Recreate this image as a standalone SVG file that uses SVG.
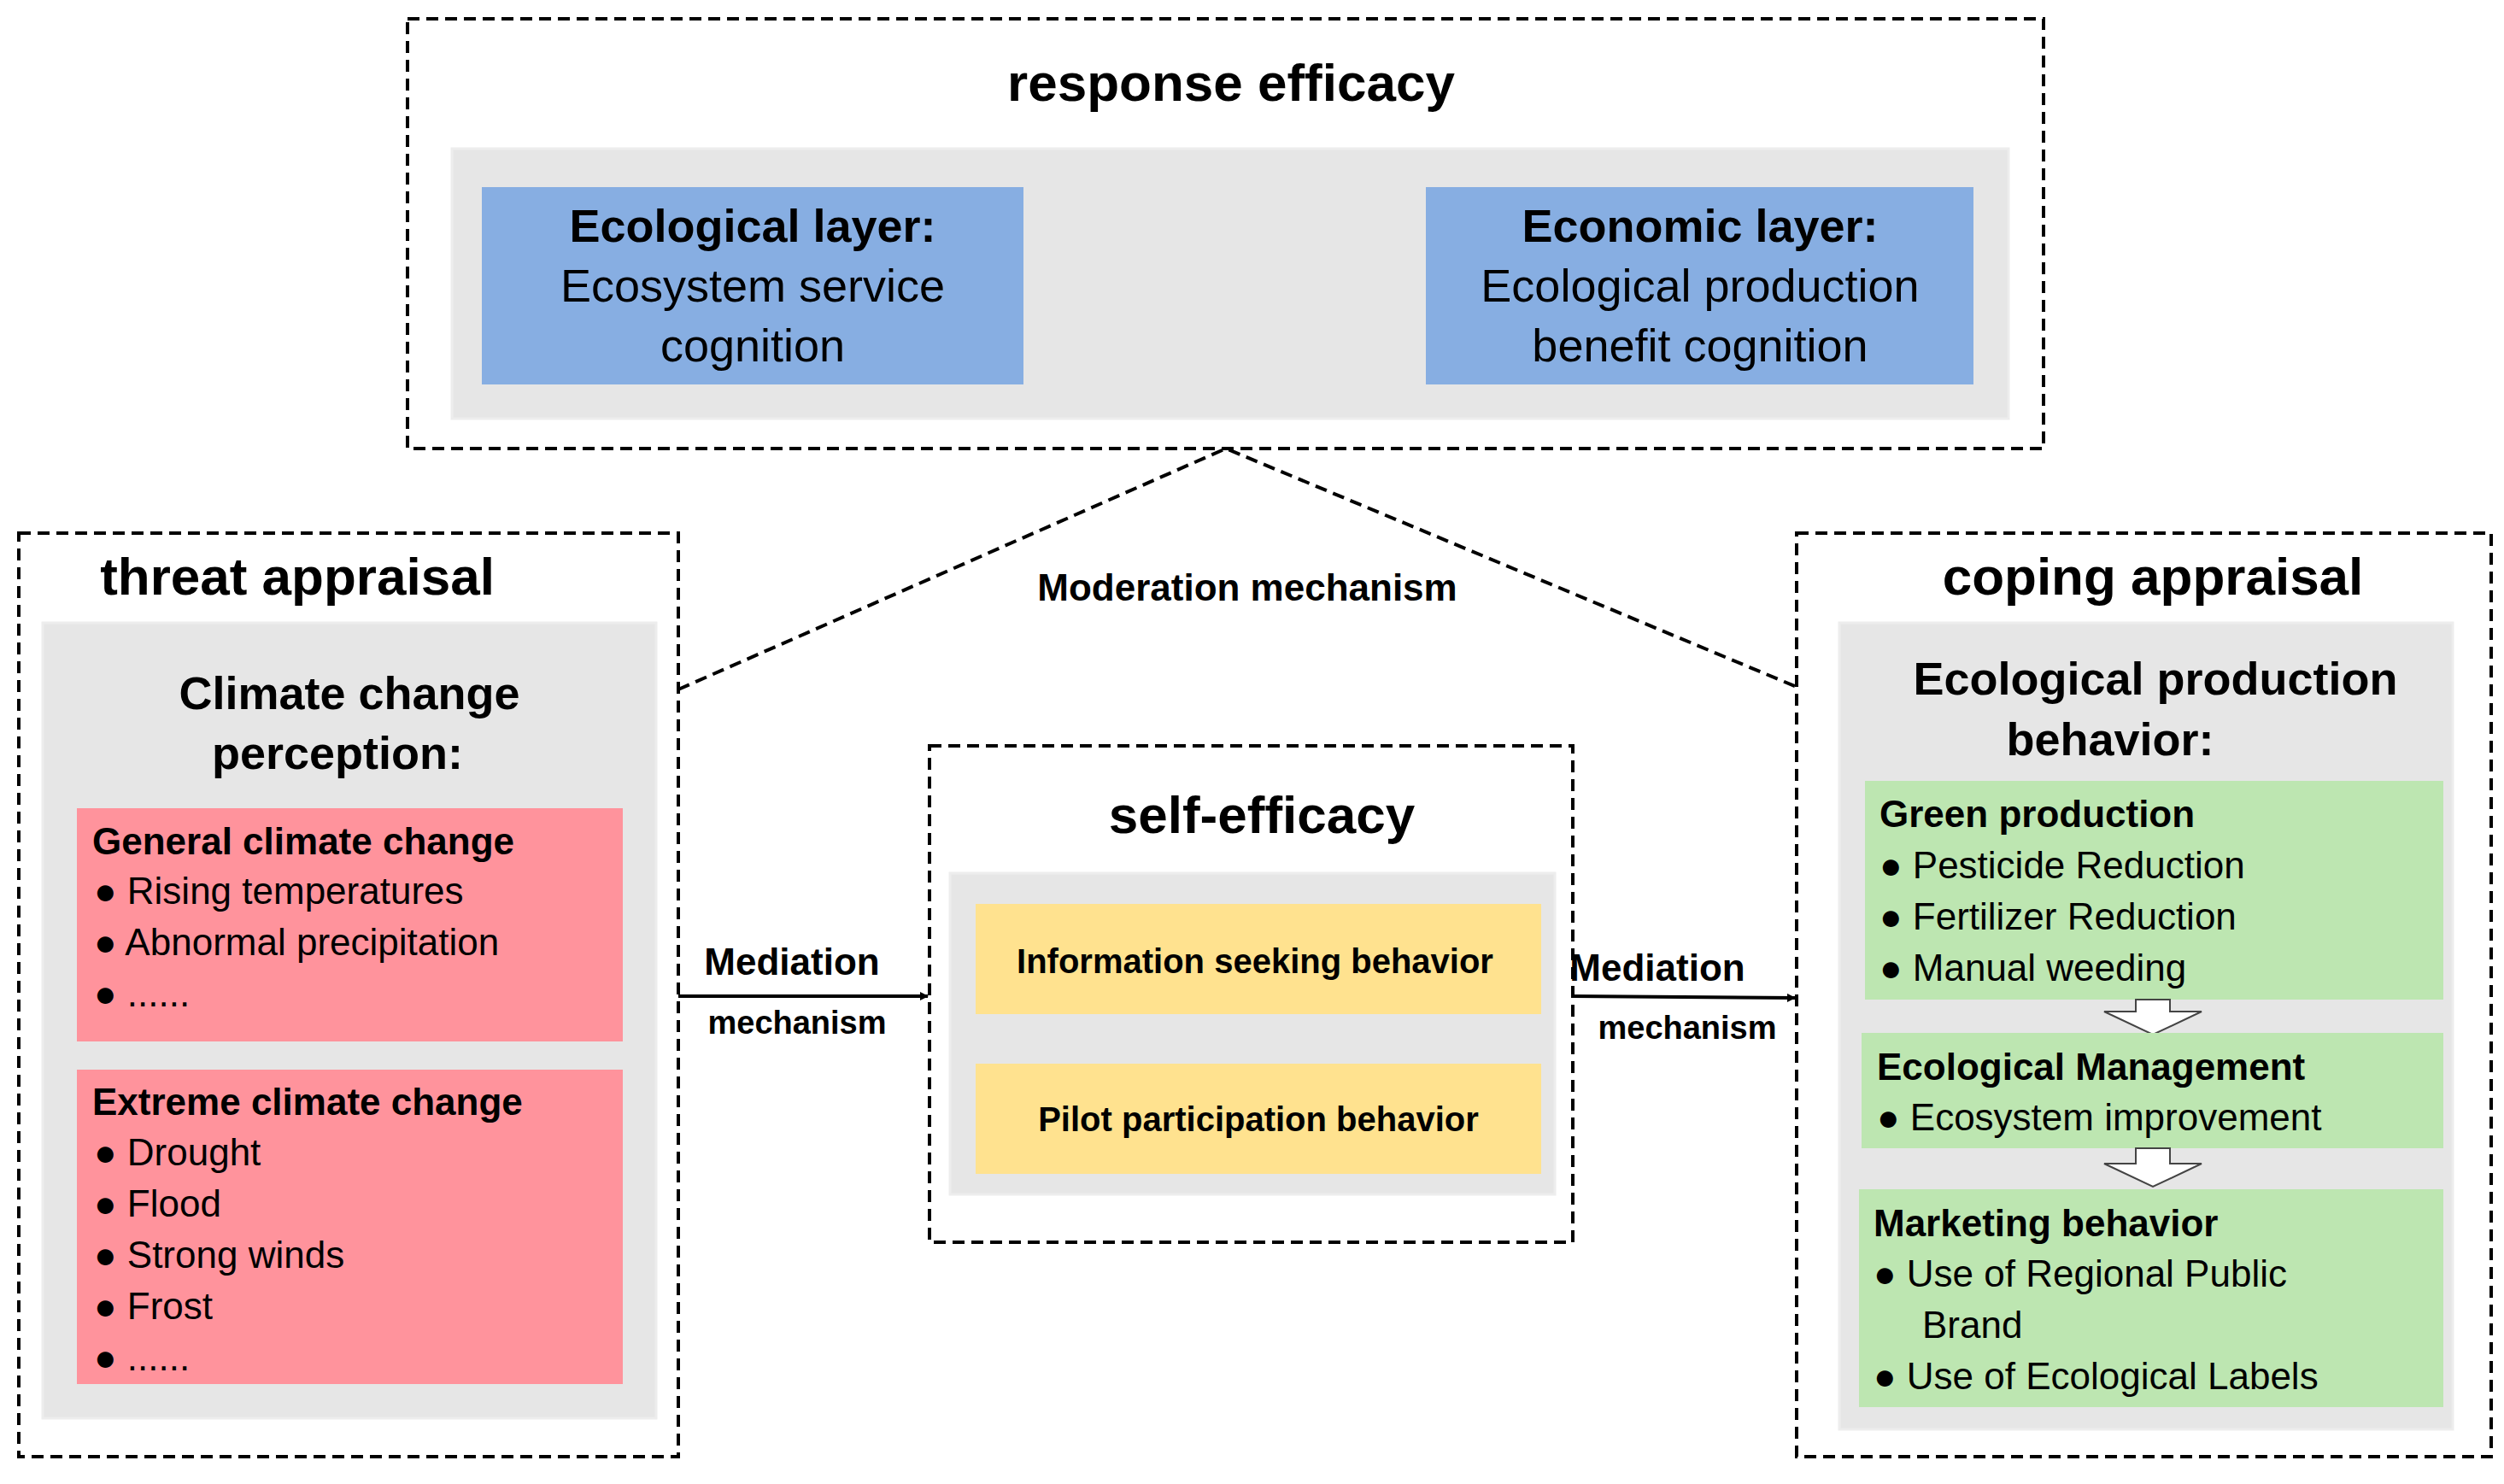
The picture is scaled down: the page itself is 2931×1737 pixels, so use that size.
<svg xmlns="http://www.w3.org/2000/svg" width="2931" height="1737" viewBox="0 0 2931 1737">
<defs>
<style>
text{font-family:"Liberation Sans",Arial,sans-serif;fill:#000}
.dash{fill:none;stroke:#000;stroke-width:4;stroke-dasharray:14 8}
.gray{fill:#e6e6e6;stroke:#ededed;stroke-width:3}
.blue{fill:#87aee2}
.pink{fill:#ff939c}
.yel{fill:#ffe28f}
.grn{fill:#bde6b1}
.t{font-size:62px;font-weight:bold;text-anchor:middle}
.h{font-size:54px;text-anchor:middle}
.hb{font-size:54px;font-weight:bold;text-anchor:middle}
.it{font-size:44px}
.itb{font-size:44px;font-weight:bold}
.yb{font-size:40px;font-weight:bold;text-anchor:middle}
.lab{font-size:44px;font-weight:bold}
.labs{font-size:38px;font-weight:bold}
</style>
<marker id="arr" markerWidth="10" markerHeight="10" refX="9" refY="5" orient="auto" markerUnits="userSpaceOnUse" viewBox="0 0 10 10"><path d="M0,0 L10,5 L0,10 z" fill="#000"/></marker>
</defs>
<rect width="2931" height="1737" fill="#fff"/>
<g id="response-efficacy">
<rect class="dash" x="477" y="22" width="1915" height="503"/>
<text class="t" x="1441" y="118">response efficacy</text>
<rect class="gray" x="529" y="174" width="1822" height="316"/>
<rect class="blue" x="564" y="219" width="634" height="231"/>
<text class="hb" x="881" y="283">Ecological layer:</text>
<text class="h" x="881" y="353">Ecosystem service</text>
<text class="h" x="881" y="423">cognition</text>
<rect class="blue" x="1669" y="219" width="641" height="231"/>
<text class="hb" x="1990" y="283">Economic layer:</text>
<text class="h" x="1990" y="353">Ecological production</text>
<text class="h" x="1990" y="423">benefit cognition</text>
</g>
<g id="threat-appraisal">
<rect class="dash" x="22" y="624" width="772" height="1081"/>
<text class="t" x="348" y="696">threat appraisal</text>
<rect class="gray" x="50" y="729" width="718" height="931"/>
<text class="hb" x="409" y="830">Climate change</text>
<text class="hb" x="395" y="900">perception:</text>
<rect class="pink" x="90" y="946" width="639" height="273"/>
<text class="itb" x="108" y="1000">General climate change</text>
<g class="it"><text x="110" y="1058">●  Rising temperatures</text><text x="110" y="1118">●  Abnormal precipitation</text><text x="110" y="1178">●  ......</text></g>
<rect class="pink" x="90" y="1252" width="639" height="368"/>
<text class="itb" x="108" y="1305">Extreme climate change</text>
<g class="it"><text x="110" y="1364">●  Drought</text><text x="110" y="1424">●  Flood</text><text x="110" y="1484">●  Strong winds</text><text x="110" y="1544">●  Frost</text><text x="110" y="1604">●  ......</text></g>
</g>
<g id="self-efficacy">
<rect class="dash" x="1088" y="873" width="753" height="581"/>
<text class="t" x="1477" y="975">self-efficacy</text>
<rect class="gray" x="1112" y="1022" width="708" height="376"/>
<rect class="yel" x="1142" y="1058" width="662" height="129"/>
<text class="yb" x="1469" y="1139">Information seeking behavior</text>
<rect class="yel" x="1142" y="1245" width="662" height="129"/>
<text class="yb" x="1473" y="1324">Pilot participation behavior</text>
</g>
<g id="coping-appraisal">
<rect class="dash" x="2103" y="624" width="813" height="1081"/>
<text class="t" x="2520" y="696">coping appraisal</text>
<rect class="gray" x="2153" y="729" width="718" height="944"/>
<text class="hb" x="2523" y="813">Ecological production</text>
<text class="hb" x="2470" y="884">behavior:</text>
<rect class="grn" x="2183" y="914" width="677" height="256"/>
<text class="itb" x="2200" y="968">Green production</text>
<g class="it"><text x="2200" y="1028">●  Pesticide Reduction</text><text x="2200" y="1088">●  Fertilizer Reduction</text><text x="2200" y="1148">●  Manual weeding</text></g>
<path d="M2500,1170 L2540,1170 L2540,1184 L2577,1184 L2520,1211 L2463,1184 L2500,1184 z" fill="#fff" stroke="#444" stroke-width="2"/>
<rect class="grn" x="2179" y="1209" width="681" height="135"/>
<text class="itb" x="2197" y="1264">Ecological Management</text>
<text class="it" x="2197" y="1323">●  Ecosystem improvement</text>
<path d="M2500,1344 L2540,1344 L2540,1362 L2577,1362 L2520,1389 L2463,1362 L2500,1362 z" fill="#fff" stroke="#444" stroke-width="2"/>
<rect class="grn" x="2176" y="1392" width="684" height="255"/>
<text class="itb" x="2193" y="1447">Marketing behavior</text>
<g class="it"><text x="2193" y="1506">●  Use of Regional Public</text><text x="2250" y="1566">Brand</text><text x="2193" y="1626">●  Use of Ecological Labels</text></g>
</g>
<g id="connectors">
<path class="dash" d="M794,807 L1435,525 L2103,804"/>
<text class="lab" x="1460" y="703" text-anchor="middle">Moderation mechanism</text>
<line x1="794" y1="1166" x2="1086" y2="1166" stroke="#000" stroke-width="4" marker-end="url(#arr)"/>
<text class="lab" x="927" y="1141" text-anchor="middle">Mediation</text>
<text class="labs" x="933" y="1210" text-anchor="middle">mechanism</text>
<line x1="1841" y1="1166" x2="2101" y2="1168" stroke="#000" stroke-width="4" marker-end="url(#arr)"/>
<text class="lab" x="1940" y="1148" text-anchor="middle">Mediation</text>
<text class="labs" x="1975" y="1216" text-anchor="middle">mechanism</text>
</g>
</svg>
